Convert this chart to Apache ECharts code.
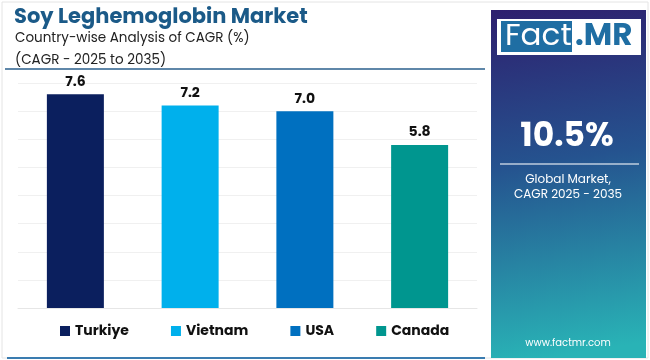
<!DOCTYPE html>
<html><head><meta charset="utf-8">
<script src="https://cdn.jsdelivr.net/npm/echarts@6/dist/echarts.min.js"></script>
<style>html,body{margin:0;padding:0;background:#fff}#c{width:650px;height:360px}</style>
</head><body><div id="c"></div>
<script>
const categories = ["Turkiye", "Vietnam", "USA", "Canada"];
const values = [7.6, 7.2, 7.0, 5.8];
const colors = ["#0b1f5e", "#00b0ec", "#0070c0", "#00968f"];
const yTicks = [0, 1, 2, 3, 4, 5, 6, 7, 8];
const globalCagr = "10.5%";

const chart = echarts.init(document.getElementById('c'), null, {renderer: 'canvas'});
const FONT = "Poppins, Inter, 'Noto Sans', sans-serif";
const series = categories.map((name, i) => ({
  name: name,
  type: 'bar',
  stack: 'all',
  barWidth: 57,
  data: categories.map((c, j) => j === i ? values[i] : '-'),
  itemStyle: {color: colors[i]},
  label: {show: true, position: 'top', distance: 5, color: '#111', fontWeight: 'bold', fontSize: 14, fontFamily: FONT,
    formatter: p => Number(p.value).toFixed(1)}
}));

chart.setOption({
  animation: false,
  backgroundColor: '#fff',
  title: [
    {text: 'Soy Leghemoglobin Market', left: 9, top: 2, textStyle: {color: '#1b5a88', fontSize: 21, fontWeight: 'bold', fontFamily: FONT}},
    {text: 'Country-wise Analysis of CAGR (%)\n(CAGR - 2025 to 2035)', left: 10, top: 23,
     textStyle: {color: '#222', fontSize: 13.5, fontWeight: 'normal', fontFamily: FONT, lineHeight: 22}}
  ],
  legend: {
    bottom: 17, left: 55, itemWidth: 10, itemHeight: 10, itemGap: 42, icon: 'rect',
    textStyle: {fontSize: 14, fontWeight: 'bold', color: '#111', fontFamily: FONT},
    data: categories
  },
  grid: {left: 18, right: 173, top: 83, bottom: 52},
  xAxis: {type: 'category', data: categories, axisLine: {show: true, lineStyle: {color: '#e6e6e6'}}, axisTick: {show: false}, axisLabel: {show: false}},
  yAxis: {type: 'value', min: yTicks[0], max: yTicks[yTicks.length - 1], interval: 1,
    axisLabel: {show: false}, axisLine: {show: false}, axisTick: {show: false},
    splitLine: {lineStyle: {color: '#f0f0f0'}}},
  series: series,
  graphic: [
    {type: 'rect', shape: {x: 2, y: 2, width: 646, height: 356}, style: {fill: 'none', stroke: '#e4e4e4', lineWidth: 1}, silent: true},
    {type: 'line', shape: {x1: 5, y1: 69, x2: 485, y2: 69}, style: {stroke: '#2a5f8c', lineWidth: 1.5}},
    {type: 'line', shape: {x1: 7, y1: 358, x2: 485, y2: 358}, style: {stroke: '#3a7cb0', lineWidth: 2}},
    {type: 'rect', shape: {x: 491, y: 10, width: 155, height: 348},
     style: {fill: new echarts.graphic.LinearGradient(0, 0, 0.35, 1, [
       {offset: 0, color: '#2e1f6e'}, {offset: 0.45, color: '#25538f'}, {offset: 1, color: '#29b3b6'}])}},
    {type: 'rect', shape: {x: 497, y: 19, width: 144, height: 36}, style: {fill: '#fff'}},
    {type: 'rect', shape: {x: 501, y: 21, width: 71, height: 31}, style: {fill: '#1f6ea3'}},
    {type: 'text', x: 505, y: 37, style: {text: 'Fact', fill: '#fff', fontSize: 31, fontFamily: FONT, verticalAlign: 'middle'}},
    {type: 'text', x: 575, y: 37, style: {text: '.MR', fill: '#1f6ea3', fontSize: 31, fontWeight: 'bold', fontFamily: FONT, verticalAlign: 'middle'}},
    {type: 'text', x: 567, y: 138, style: {text: globalCagr, fill: '#fff', fontSize: 33, fontWeight: 'bold', fontFamily: FONT, align: 'center', verticalAlign: 'middle'}},
    {type: 'line', shape: {x1: 500, y1: 164, x2: 639, y2: 164}, style: {stroke: 'rgba(255,255,255,0.7)', lineWidth: 1.5}},
    {type: 'text', x: 568, y: 187, style: {text: 'Global Market,\nCAGR 2025 - 2035', fill: '#fff', fontSize: 12, lineHeight: 15, fontFamily: FONT, align: 'center', verticalAlign: 'middle'}},
    {type: 'text', x: 568, y: 343, style: {text: 'www.factmr.com', fill: '#fff', fontSize: 10, fontFamily: FONT, align: 'center', verticalAlign: 'middle'}}
  ]
});
</script></body></html>
